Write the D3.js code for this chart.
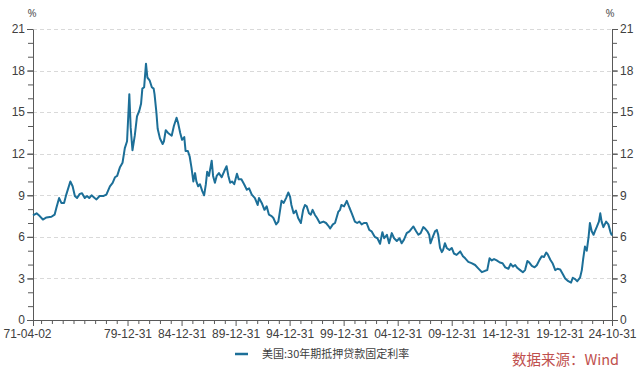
<!DOCTYPE html>
<html>
<head>
<meta charset="utf-8">
<script src="https://cdn.jsdelivr.net/npm/d3@7"></script>
<style>
  body { margin: 0; background: #fff; }
  svg { display: block; font-family: "Noto Sans", "Noto Sans CJK SC", sans-serif; }
</style>
</head>
<body>
<div id="chart"></div>
<script>
// 美国:30年期抵押贷款固定利率 (%)
const dates = [
  "1971-04-02","1971-08-01","1971-11-15","1972-03-01","1972-07-01","1972-12-15","1973-04-01","1973-06-01",
  "1973-09-01","1973-11-15","1974-02-15","1974-05-01","1974-09-15","1974-12-01","1975-02-15","1975-05-01",
  "1975-08-01","1975-10-15","1976-01-15","1976-04-01","1976-06-15","1976-09-01","1976-12-15","1977-02-15",
  "1977-06-01","1977-10-15","1978-01-15","1978-05-15","1978-08-15","1978-11-01","1979-01-15","1979-04-15",
  "1979-07-15","1979-10-01","1979-12-15","1980-03-01","1980-04-15","1980-06-15","1980-09-01","1980-11-15",
  "1981-02-01","1981-04-01","1981-05-15","1981-07-15","1981-09-15","1981-11-01","1982-01-15","1982-04-01",
  "1982-06-01","1982-07-01","1982-09-01","1982-10-15","1983-01-01","1983-04-01","1983-05-15","1983-07-15",
  "1983-10-01","1984-02-01","1984-04-15","1984-07-15","1984-09-01","1984-11-15","1985-01-15","1985-04-01",
  "1985-05-15","1985-08-01","1985-10-01","1985-12-01","1986-02-01","1986-04-01","1986-05-15","1986-07-15",
  "1986-09-15","1986-12-01","1987-02-01","1987-04-01","1987-05-15","1987-07-15","1987-10-15","1987-12-01",
  "1988-02-01","1988-04-01","1988-06-15","1988-09-15","1988-12-15","1989-03-01","1989-05-01","1989-07-01",
  "1989-09-01","1989-11-15","1990-02-15","1990-04-15","1990-07-15","1990-10-15","1991-01-15","1991-04-01",
  "1991-07-01","1991-10-15","1992-01-15","1992-03-01","1992-06-01","1992-09-01","1992-11-15","1993-02-01",
  "1993-05-01","1993-07-01","1993-10-01","1993-12-15","1994-04-01","1994-06-15","1994-09-01","1994-11-15",
  "1995-01-15","1995-03-01","1995-05-15","1995-08-01","1995-10-15","1996-01-15","1996-04-01","1996-06-01",
  "1996-08-01","1996-10-15","1996-12-15","1997-02-15","1997-05-01","1997-07-15","1997-10-15","1998-02-15",
  "1998-05-15","1998-08-01","1998-10-01","1999-01-01","1999-03-15","1999-07-01","1999-09-01","1999-10-15",
  "2000-01-15","2000-04-15","2000-07-15","2000-10-01","2001-01-15","2001-04-01","2001-06-15","2001-09-01",
  "2001-11-15","2002-02-15","2002-05-15","2002-08-01","2002-11-15","2003-02-15","2003-05-15","2003-08-01",
  "2003-10-01","2004-01-01","2004-03-15","2004-06-15","2004-09-01","2004-12-01","2005-03-01","2005-05-15",
  "2005-08-01","2005-11-01","2006-02-01","2006-04-15","2006-06-15","2006-09-15","2006-12-01","2007-02-15",
  "2007-05-15","2007-07-15","2007-10-01","2007-12-01","2008-01-15","2008-04-01","2008-06-15","2008-08-15",
  "2008-10-01","2008-12-01","2009-02-01","2009-03-15","2009-05-15","2009-07-15","2009-10-15","2010-01-01",
  "2010-03-15","2010-06-15","2010-10-15","2011-01-15","2011-04-01","2011-07-15","2011-11-01","2012-03-01",
  "2012-06-15","2012-10-15","2013-02-01","2013-04-15","2013-07-01","2013-09-15","2013-12-01","2014-03-01",
  "2014-06-15","2014-09-15","2014-12-15","2015-04-01","2015-06-15","2015-09-01","2015-11-15","2016-02-01",
  "2016-05-01","2016-08-01","2016-10-15","2017-01-01","2017-03-01","2017-06-01","2017-09-01","2017-11-15",
  "2018-02-15","2018-05-01","2018-07-15","2018-10-01","2018-11-15","2019-02-15","2019-05-01","2019-08-01",
  "2019-10-15","2020-01-15","2020-04-15","2020-07-01","2020-10-15","2021-01-15","2021-03-15","2021-06-01",
  "2021-08-15","2021-11-15","2022-01-15","2022-03-01","2022-05-01","2022-07-01","2022-09-01","2022-10-15",
  "2022-12-15","2023-02-15","2023-04-01","2023-06-01","2023-08-15","2023-10-01","2023-11-15","2024-01-15",
  "2024-04-15","2024-07-01","2024-09-15","2024-10-31"
];
const rates = [
  7.55, 7.7, 7.5, 7.25, 7.4, 7.45, 7.6, 8.1,
  8.8, 8.45, 8.45, 9.05, 10.0, 9.65, 8.95, 8.8,
  9.1, 9.15, 8.8, 8.95, 8.8, 9.0, 8.8, 8.7,
  8.95, 8.95, 9.05, 9.65, 9.9, 10.3, 10.4, 11.0,
  11.35, 12.4, 12.9, 16.3, 13.9, 12.25, 13.3, 14.7,
  15.1, 15.6, 16.7, 16.8, 18.5, 17.5, 17.3, 16.8,
  16.7, 16.3, 15.0, 13.8, 13.1, 12.7, 12.9, 13.7,
  13.5, 13.3, 14.0, 14.6, 14.25, 13.5, 13.0, 13.2,
  12.2, 12.2, 11.8, 11.0, 10.0, 10.6, 10.0, 9.65,
  9.8, 9.3, 9.0, 9.8, 10.7, 10.4, 11.5, 10.4,
  9.9, 10.4, 10.6, 10.3, 10.75, 11.1, 10.4, 9.9,
  10.0, 9.8, 10.55, 10.15, 10.15, 9.8, 9.4, 9.5,
  9.05, 8.8, 8.3, 8.8, 8.45, 7.95, 8.2, 7.6,
  7.5, 7.36, 6.9, 7.1, 8.6, 8.45, 8.8, 9.2,
  8.9, 8.3, 7.7, 7.9, 7.36, 7.0, 7.95, 8.3,
  8.2, 7.7, 7.6, 7.95, 7.6, 7.36, 7.0, 7.1,
  7.0, 6.8, 6.6, 6.9, 7.0, 7.8, 7.95, 8.3,
  8.2, 8.6, 8.1, 7.7, 7.1, 7.0, 7.1, 6.9,
  7.0, 7.0, 6.5, 6.4, 6.0, 5.9, 5.5, 6.34,
  5.9, 6.15, 5.54, 6.27, 5.9, 5.7, 5.9, 5.54,
  5.8, 6.27, 6.4, 6.6, 6.75, 6.4, 6.15, 6.27,
  6.7, 6.6, 6.4, 6.15, 5.54, 6.0, 6.4, 6.5,
  6.15, 5.2, 4.9, 5.05, 5.54, 5.2, 5.05, 5.2,
  4.8, 4.7, 4.95, 4.6, 4.45, 4.2, 4.1, 3.97,
  3.73, 3.45, 3.55, 3.6, 4.45, 4.3, 4.4, 4.3,
  4.15, 4.1, 3.8, 3.7, 4.05, 3.85, 3.97, 3.75,
  3.6, 3.45, 3.6, 4.26, 4.16, 3.9, 3.8, 3.95,
  4.34, 4.6, 4.55, 4.87, 4.75, 4.35, 4.1, 3.6,
  3.7, 3.65, 3.3, 3.0, 2.8, 2.7, 3.05, 2.95,
  2.8, 3.05, 3.6, 4.4, 5.3, 5.0, 6.0, 7.0,
  6.4, 6.15, 6.4, 6.7, 7.1, 7.7, 7.1, 6.7,
  7.1, 6.9, 6.3, 6.1
];
const yTicks = [0, 3, 6, 9, 12, 15, 18, 21];
const xLabelDates = [
  "1971-04-02","1979-12-31","1984-12-31","1989-12-31","1994-12-31",
  "1999-12-31","2004-12-31","2009-12-31","2014-12-31","2019-12-31","2024-10-31"
];
const seriesName = "美国:30年期抵押贷款固定利率";
const sourceText = "数据来源：Wind";

const W = 640, H = 378;
const m = { left: 33, right: 28, top: 29, bottom: 60 };
const lineColor = "#1c6f98";
const axisColor = "#595959";
const parse = d3.timeParse("%Y-%m-%d");
const fmt = d3.timeFormat("%y-%m-%d");

const series = dates.map((d, i) => ({ date: parse(d), value: rates[i] }));
const labelDates = xLabelDates.map(parse);
const start = labelDates[0], end = labelDates[labelDates.length - 1];

// yearly minor ticks at Dec 31, skipping the labelled ones
const minorDates = d3.range(1971, 2024)
  .map(y => new Date(y, 11, 31))
  .filter(d => !labelDates.some(l => +l === +d));

const svg = d3.select("#chart").append("svg")
  .attr("width", W).attr("height", H);

const x = d3.scaleTime()
  .domain([start, end])
  .range([m.left, W - m.right]);
const y = d3.scaleLinear()
  .domain([0, 21])
  .range([H - m.bottom + 2, m.top]);

// dashed grid
svg.append("g")
  .selectAll("line")
  .data(yTicks.filter(v => v > 0))
  .join("line")
    .attr("x1", x.range()[0]).attr("x2", x.range()[1])
    .attr("y1", d => Math.round(y(d)) + 0.5).attr("y2", d => Math.round(y(d)) + 0.5)
    .attr("stroke", "#d9d9d9")
    .attr("stroke-dasharray", "4,3");

function styleAxis(g) {
  g.select(".domain").attr("stroke", axisColor);
  g.selectAll(".tick line").attr("stroke", axisColor);
  g.selectAll(".tick text").attr("fill", "#404040").attr("font-size", 12);
}

const y0 = y(0);
// x minor ticks
svg.append("g")
  .attr("transform", `translate(0,${y0})`)
  .call(d3.axisBottom(x).tickValues(minorDates).tickSize(4).tickFormat(""))
  .call(g => g.select(".domain").remove())
  .call(styleAxis);
// x labelled ticks
svg.append("g")
  .attr("transform", `translate(0,${y0})`)
  .call(d3.axisBottom(x).tickValues(labelDates).tickSize(6).tickSizeOuter(0).tickPadding(3).tickFormat(fmt))
  .call(styleAxis)
  .call(g => g.select(".tick text").attr("dx", -6));

// y axes, left and right
const yMinor = d3.range(0, 22);
[["left", x.range()[0]], ["right", x.range()[1]]].forEach(([side, px]) => {
  const ax = side === "left" ? d3.axisLeft : d3.axisRight;
  svg.append("g")
    .attr("transform", `translate(${px},0)`)
    .call(ax(y).tickValues(yMinor).tickSize(5).tickFormat(""))
    .call(g => g.select(".domain").remove())
    .call(styleAxis);
  svg.append("g")
    .attr("transform", `translate(${px},0)`)
    .call(ax(y).tickValues(yTicks).tickSize(6).tickSizeOuter(0).tickPadding(2))
    .call(styleAxis);
  svg.append("text")
    .attr("x", side === "left" ? px - 1 : px - 2)
    .attr("y", 17)
    .attr("text-anchor", "middle")
    .attr("font-size", 11)
    .attr("fill", "#595959")
    .text("%");
});

// series line
svg.append("path")
  .datum(series)
  .attr("fill", "none")
  .attr("stroke", lineColor)
  .attr("stroke-width", 2)
  .attr("stroke-linejoin", "round")
  .attr("d", d3.line().x(d => x(d.date)).y(d => y(d.value)));

// legend
const lg = svg.append("g").attr("transform", "translate(235,354)");
lg.append("line").attr("x1", 0).attr("x2", 13).attr("stroke", lineColor).attr("stroke-width", 2.5);
lg.append("text")
  .attr("x", 27).attr("y", 4)
  .attr("font-size", 11)
  .attr("fill", "#404040")
  .attr("font-family", "'Noto Sans CJK SC', sans-serif")
  .text(seriesName);

// source note
svg.append("text")
  .attr("x", 619).attr("y", 365)
  .attr("text-anchor", "end")
  .attr("font-size", 14.5)
  .attr("fill", "#c0504d")
  .attr("font-family", "'Noto Sans CJK SC', sans-serif")
  .text(sourceText);
</script>
</body>
</html>
